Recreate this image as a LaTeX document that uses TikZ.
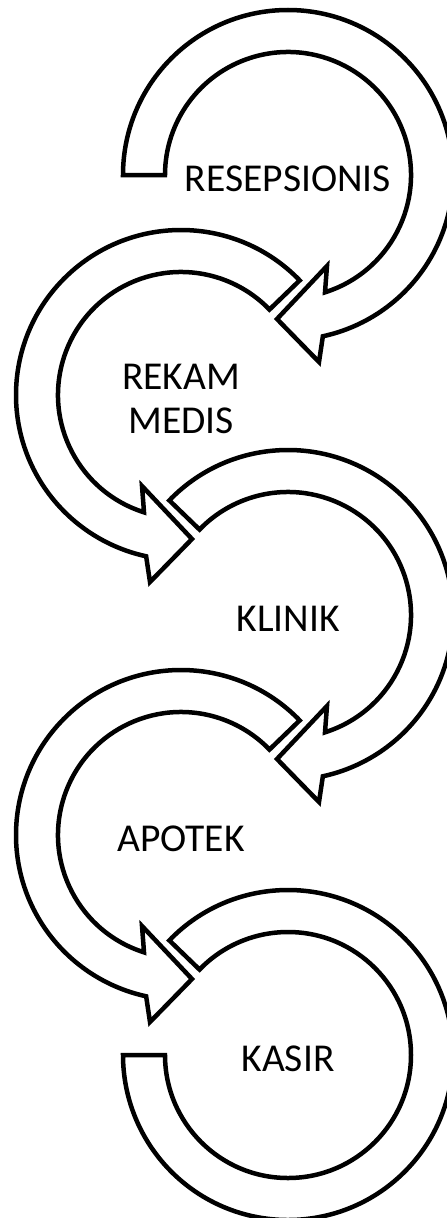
\documentclass[tikz,border=0pt]{standalone}
\usepackage{fontspec}
\setmainfont{Carlito}
\usetikzlibrary{calc}

\begin{document}
\begin{tikzpicture}[%
    x=1pt,
    y=1pt,
    ring/.style={%
      draw,
      fill=white,
      line width=4.5pt,
      miter limit=20
    },
    stage/.style={%
      font=\fontsize{39.5}{44}\selectfont,
      align=center,
      inner sep=0pt
    }
  ]
    \useasboundingbox (0,0) rectangle (447,-1218);
    \clip (0,0) rectangle (447,-1218);

    \coordinate (c1) at (288,-175);
    \coordinate (c2) at (181,-395);
    \coordinate (c3) at (288,-615);
    \coordinate (c4) at (181,-835);
    \coordinate (c5) at (288,-1055);

    % first ring: flat start on the left
    \begin{scope}[shift={(c1)}]
      \draw[ring] (180:165) arc[start angle=180, end angle=-77.8, radius=165]
        -- (31,-187) -- (-11,-144) -- (39,-91) -- (-72.5:123)
        arc[start angle=-72.5, end angle=180, radius=123] -- cycle;
    \end{scope}

    % middle rings, turning one way then the other
    \foreach \c/\s in {c2/-1, c3/1, c4/-1} {
      \begin{scope}[shift={(\c)}, xscale=\s]
        \draw[ring] (136:165) arc[start angle=136, end angle=-77.8, radius=165]
          -- (31,-187) -- (-11,-144) -- (39,-91) -- (-72.5:123)
          arc[start angle=-72.5, end angle=136, radius=123] -- cycle;
      \end{scope}
    }

    % last ring: no head
    \begin{scope}[shift={(c5)}]
      \draw[ring] (136:165) arc[start angle=136, end angle=-180, radius=165]
        -- (-180:123)
        arc[start angle=-180, end angle=136, radius=123] -- cycle;
    \end{scope}

    \node[stage] (resep) at ($(c1)+(0,-3.5)$) {RESEPSIONIS};
    \node[stage] (rekam) at ($(c2)+(0,-3.5)$) {REKAM\\MEDIS};
    \node[stage] (klinik) at ($(c3)+(0,-3.5)$) {KLINIK};
    \node[stage] (apotek) at ($(c4)+(0,-3.5)$) {APOTEK};
    \node[stage] (kasir) at ($(c5)+(0,-3.5)$) {KASIR};
\end{tikzpicture}
\end{document}
